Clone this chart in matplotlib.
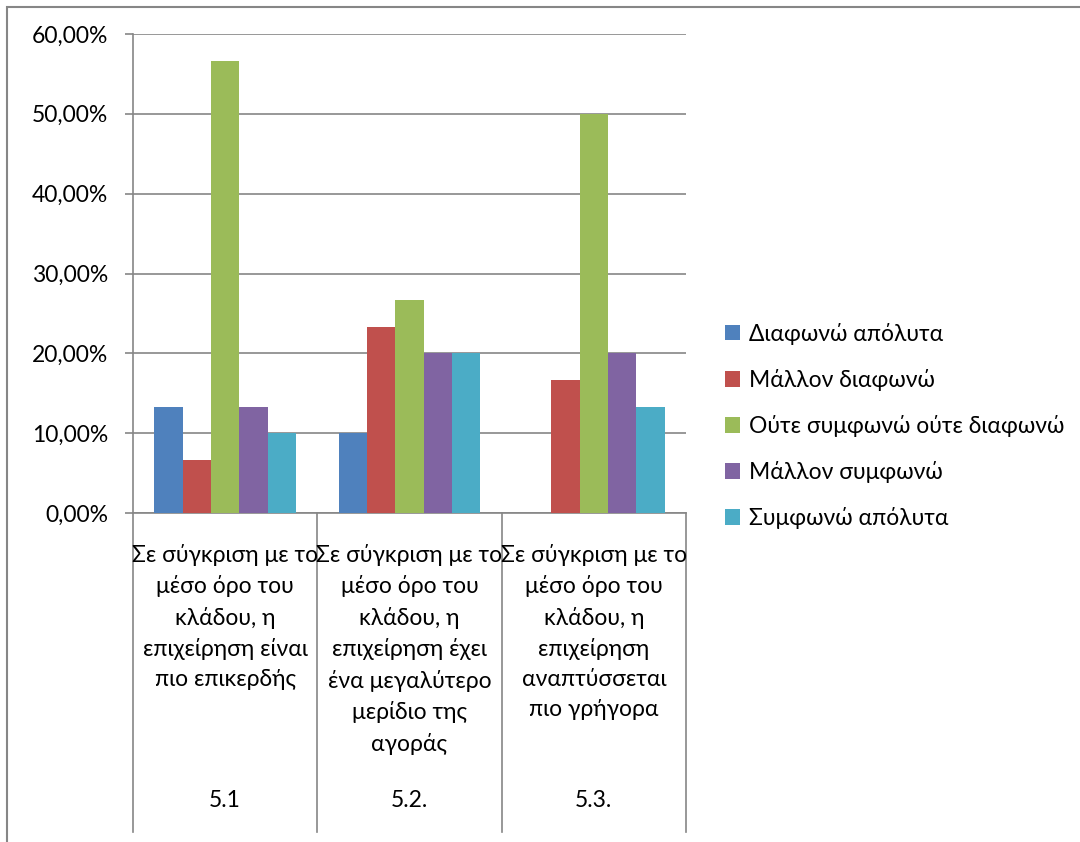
import matplotlib.pyplot as plt
from matplotlib.patches import Rectangle
from matplotlib.ticker import FuncFormatter, MultipleLocator
import numpy as np

plt.rcParams['font.family'] = ['Lato', 'Open Sans', 'DejaVu Sans']

# category labels (two levels, as in the Excel chart)
codes = ['5.1', '5.2.', '5.3.']
questions = [
    'Σε σύγκριση με το\nμέσο όρο του\nκλάδου, η\nεπιχείρηση είναι\nπιο επικερδής',
    'Σε σύγκριση με το\nμέσο όρο του\nκλάδου, η\nεπιχείρηση έχει\nένα μεγαλύτερο\nμερίδιο της\nαγοράς',
    'Σε σύγκριση με το\nμέσο όρο του\nκλάδου, η\nεπιχείρηση\nαναπτύσσεται\nπιο γρήγορα',
]

series_names = ['Διαφωνώ απόλυτα', 'Μάλλον διαφωνώ', 'Ούτε συμφωνώ ούτε διαφωνώ',
                'Μάλλον συμφωνώ', 'Συμφωνώ απόλυτα']
diafono_apolyta = [13.33, 10.00, 0.0]
mallon_diafono = [6.67, 23.33, 16.67]
oute_oute = [56.67, 26.67, 50.00]
mallon_symfono = [13.33, 20.00, 20.00]
symfono_apolyta = [10.00, 20.00, 13.33]
values = [diafono_apolyta, mallon_diafono, oute_oute, mallon_symfono, symfono_apolyta]
colors = ['#4F81BD', '#C0504D', '#9BBB59', '#8064A2', '#4BACC6']

grid_col = '#868686'
fs = 16.5

fig = plt.figure(figsize=(10.8, 8.42), dpi=100)
ax = fig.add_axes([133 / 1080, 1 - 513 / 842, 553 / 1080, 479 / 842])

x = np.arange(len(codes))
w = 1 / 6.5
for i, (name, vals, c) in enumerate(zip(series_names, values, colors)):
    ax.bar(x + (i - 2) * w, vals, w, color=c, label=name, zorder=3)

ax.set_xlim(-0.5, 2.5)
ax.set_ylim(0, 60)
ax.yaxis.set_major_locator(MultipleLocator(10))
ax.yaxis.set_major_formatter(FuncFormatter(lambda v, p: f'{v:.2f}%'.replace('.', ',')))
ax.grid(axis='y', color=grid_col, linewidth=1.2, zorder=0)
ax.set_xticks([])
for s in ['top', 'right']:
    ax.spines[s].set_visible(False)
for s in ['left', 'bottom']:
    ax.spines[s].set_color(grid_col)
    ax.spines[s].set_linewidth(1.2)
ax.tick_params(axis='y', length=6, color=grid_col, width=1.2, labelsize=fs, pad=12)

# category separators and labels below the axis
tr = ax.get_xaxis_transform()
for b in [-0.5, 0.5, 1.5, 2.5]:
    ax.plot([b, b], [0, -0.666], transform=tr, color=grid_col, lw=1.2, clip_on=False)
for xi, q, c in zip(x, questions, codes):
    ax.text(xi, -0.064, q, transform=tr, ha='center', va='top', fontsize=fs,
            linespacing=1.53, multialignment='center')
    ax.text(xi, -0.6, c, transform=tr, ha='center', va='center', fontsize=fs)

fig.legend(loc='center left', bbox_to_anchor=(716 / 1080, 1 - 426 / 842), frameon=False,
           fontsize=fs, handlelength=0.65, handleheight=0.65, handletextpad=0.4,
           labelspacing=1.05, borderaxespad=0)

fig.add_artist(Rectangle((7 / 1080, -0.1), 1.2, (842 - 7) / 842 + 0.1, transform=fig.transFigure,
                         fill=False, edgecolor=grid_col, lw=1.5))

fig.savefig('out.png', dpi=100)
